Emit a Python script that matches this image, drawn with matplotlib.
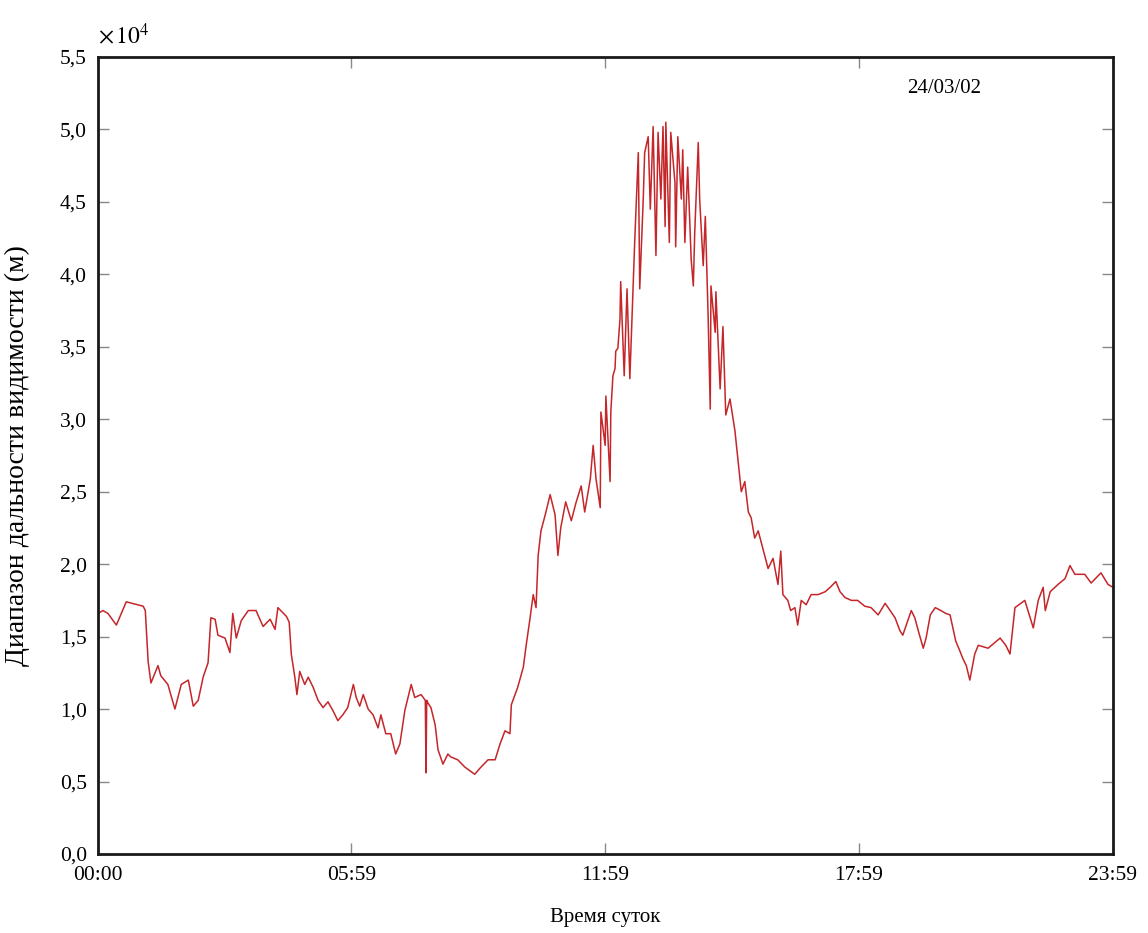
import matplotlib
matplotlib.use("Agg")
import matplotlib.pyplot as plt
from matplotlib.ticker import FuncFormatter

plt.rcParams['font.family'] = ['Liberation Serif', 'DejaVu Serif']
plt.rcParams['mathtext.fontset'] = 'stix'

# time of day in minutes, visibility range in units of 1e4 m
minutes = [0, 7, 14, 26, 40, 64, 67, 71, 75, 85, 89, 99, 109, 118, 128, 135, 142, 149, 156,
           160, 166, 170, 180, 187, 191, 196, 203, 213, 224, 234, 244, 251, 255, 267, 271,
           274, 279, 282, 286, 293, 298, 305, 312, 319, 326, 333, 340, 347, 354, 362, 366,
           371, 376, 383, 390, 397, 401, 408, 415, 422, 428, 435, 444, 449, 458, 464, 465,
           466, 468, 472, 478, 482, 489, 496, 500, 510, 520, 534, 543, 553, 563, 570, 577,
           584, 586, 595, 603, 607, 612, 617, 621, 624, 628, 634, 641, 648, 652, 656, 663,
           671, 678, 685, 690, 698, 702, 706, 712, 713, 719, 720, 726, 727, 730, 733, 734,
           737, 740, 741, 746, 750, 754, 758, 761, 766, 768, 773, 775, 780, 783, 787, 791,
           794, 798, 801, 804, 805, 810, 812, 818, 819, 822, 827, 829, 832, 836, 841, 844,
           846, 851, 853, 858, 861, 865, 868, 869, 875, 876, 882, 886, 890, 896, 903, 907,
           912, 917, 922, 926, 931, 936, 950, 957, 964, 968, 971, 978, 982, 988, 992, 997,
           1004, 1011, 1021, 1031, 1038, 1046, 1052, 1059, 1068, 1077, 1087, 1096, 1106,
           1116, 1123, 1130, 1137, 1141, 1148, 1153, 1158, 1163, 1170, 1174, 1180, 1187,
           1195, 1202, 1208, 1212, 1216, 1222, 1226, 1231, 1236, 1243, 1248, 1262, 1279,
           1287, 1293, 1300, 1314, 1326, 1333, 1340, 1343, 1350, 1361, 1371, 1378, 1385,
           1399, 1408, 1422, 1432, 1439]
visibility = [1.66, 1.68, 1.66, 1.58, 1.74, 1.71, 1.68, 1.33, 1.18, 1.30, 1.23, 1.17, 1.00,
              1.17, 1.20, 1.02, 1.06, 1.22, 1.32, 1.63, 1.62, 1.51, 1.49, 1.39, 1.66, 1.49,
              1.61, 1.68, 1.68, 1.57, 1.62, 1.55, 1.70, 1.64, 1.60, 1.38, 1.22, 1.10, 1.26,
              1.17, 1.22, 1.15, 1.06, 1.01, 1.05, 0.99, 0.92, 0.96, 1.01, 1.17, 1.08, 1.02,
              1.10, 1.00, 0.96, 0.87, 0.96, 0.83, 0.83, 0.69, 0.76, 0.99, 1.17, 1.08, 1.10,
              1.06, 0.56, 1.06, 1.04, 1.01, 0.89, 0.72, 0.62, 0.69, 0.67, 0.65, 0.60, 0.55,
              0.60, 0.65, 0.65, 0.76, 0.85, 0.83, 1.03, 1.15, 1.29, 1.44, 1.61, 1.79, 1.70,
              2.06, 2.23, 2.34, 2.48, 2.34, 2.06, 2.25, 2.43, 2.30, 2.43, 2.54, 2.36, 2.59,
              2.82, 2.59, 2.39, 3.05, 2.82, 3.16, 2.57, 3.05, 3.30, 3.35, 3.47, 3.49, 3.69,
              3.95, 3.30, 3.90, 3.28, 3.83, 4.24, 4.84, 3.90, 4.52, 4.84, 4.95, 4.45, 5.02,
              4.13, 4.98, 4.52, 5.02, 4.33, 5.05, 4.22, 4.98, 4.63, 4.19, 4.95, 4.52, 4.86,
              4.22, 4.74, 4.10, 3.92, 4.29, 4.91, 4.52, 4.06, 4.40, 3.71, 3.07, 3.92, 3.60,
              3.88, 3.21, 3.64, 3.03, 3.14, 2.92, 2.73, 2.50, 2.57, 2.36, 2.32, 2.18, 2.23,
              1.97, 2.04, 1.86, 2.09, 1.79, 1.75, 1.68, 1.70, 1.58, 1.75, 1.72, 1.79, 1.79,
              1.81, 1.84, 1.88, 1.81, 1.77, 1.75, 1.75, 1.71, 1.70, 1.65, 1.73, 1.68, 1.63,
              1.54, 1.51, 1.61, 1.68, 1.63, 1.54, 1.42, 1.49, 1.65, 1.70, 1.68, 1.66, 1.65,
              1.56, 1.47, 1.40, 1.35, 1.30, 1.20, 1.38, 1.44, 1.42, 1.49, 1.44, 1.38, 1.70,
              1.75, 1.56, 1.75, 1.84, 1.68, 1.81, 1.86, 1.90, 1.99, 1.93, 1.93, 1.87, 1.94,
              1.86, 1.84]

xticks = [0, 359, 719, 1079, 1439]
xtick_labels = ['00:00', '05:59', '11:59', '17:59', '23:59']
yticks = [0.0, 0.5, 1.0, 1.5, 2.0, 2.5, 3.0, 3.5, 4.0, 4.5, 5.0, 5.5]

fig = plt.figure(figsize=(11.48, 9.33), dpi=100)
ax = fig.add_axes([0.0854, 0.0847, 0.8841, 0.8542])

ax.plot(minutes, visibility, color='#c4262a', linewidth=1.1)

ax.set_xlim(0, 1439)
ax.set_ylim(0, 5.5)
ax.set_xticks(xticks)
ax.set_xticklabels(xtick_labels)
ax.set_yticks(yticks)
ax.yaxis.set_major_formatter(FuncFormatter(lambda v, p: ('%.1f' % v).replace('.', ',')))

ax.tick_params(direction='in', length=8, width=1, color='#888888', labelsize=15.5,
               top=True, right=True)
ax.tick_params(axis='x', pad=9)
ax.tick_params(axis='y', pad=8)
for s in ax.spines.values():
    s.set_linewidth(2)
    s.set_color('#1a1a1a')

# axis titles placed by hand
ax.text(0.5, -0.080, 'Время суток', transform=ax.transAxes, fontsize=15,
        ha='center', va='center')
ax.text(-0.079, 0.5, 'Диапазон дальности видимости (м)', transform=ax.transAxes,
        fontsize=20, rotation=90, ha='center', va='center')

ax.text(0.0, 1.01, r'$\times\,10^{4}$', transform=ax.transAxes, fontsize=17,
        ha='left', va='bottom')
ax.text(0.834, 0.961, '24/03/02', transform=ax.transAxes, fontsize=15,
        ha='center', va='center')

fig.savefig('out.png', dpi=100)
